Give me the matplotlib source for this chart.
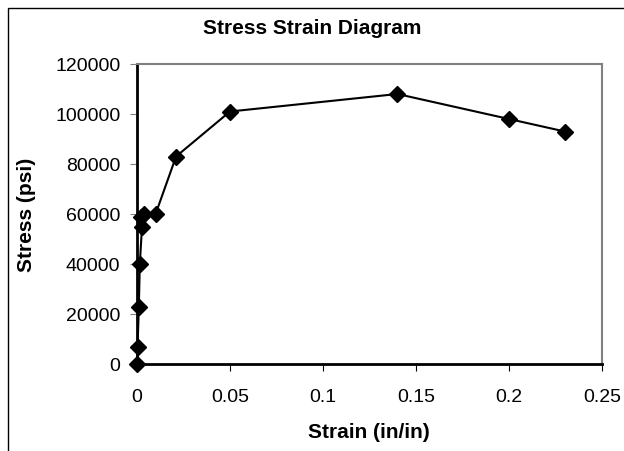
import matplotlib
matplotlib.use('Agg')
from matplotlib import pyplot as plt
from matplotlib.patches import Rectangle

strain = [0.0, 0.0003, 0.001, 0.0015, 0.0027, 0.002, 0.004, 0.01, 0.021, 0.05, 0.14, 0.2, 0.23]
stress = [0, 7000, 23000, 40000, 55000, 59000, 60000, 60000, 83000, 101000, 108000, 98000, 93000]

x_ticks = [0, 0.05, 0.1, 0.15, 0.2, 0.25]
x_tick_labels = ['0', '0.05', '0.1', '0.15', '0.2', '0.25']
y_ticks = [0, 20000, 40000, 60000, 80000, 100000, 120000]

plt.rcParams['font.family'] = ['Liberation Sans', 'DejaVu Sans']

fig = plt.figure(figsize=(6.24, 4.52), dpi=100)
# outer chart border (runs off the right and bottom of the picture)
fig.patches.append(Rectangle((8 / 624, -0.1), 1.2, 1 - 9 / 452 + 0.1,
                             transform=fig.transFigure, fill=False,
                             edgecolor='black', linewidth=1.0))

ax = fig.add_axes([137 / 624, 87 / 452, 465 / 624, 300 / 452])
ax.plot(strain, stress, color='black', linewidth=1.5, marker='D',
        markersize=8.5, markerfacecolor='black', markeredgecolor='black',
        clip_on=False, zorder=5)

ax.set_xlim(0, 0.25)
ax.set_ylim(0, 120000)
ax.set_xticks(x_ticks)
ax.set_xticklabels(x_tick_labels)
ax.set_yticks(y_ticks)
ax.tick_params(axis='both', direction='out', length=5, labelsize=14)
ax.tick_params(axis='y', color='#808080', pad=7)
ax.tick_params(axis='x', color='black', pad=12)

ax.spines['left'].set_color('black')
ax.spines['left'].set_linewidth(2)
ax.spines['bottom'].set_color('black')
ax.spines['bottom'].set_linewidth(2)
ax.spines['top'].set_color('#808080')
ax.spines['top'].set_linewidth(1.5)
ax.spines['right'].set_color('#808080')
ax.spines['right'].set_linewidth(1.5)

fig.text(312 / 624, 1 - 28 / 452, 'Stress Strain Diagram', ha='center', va='center',
         fontsize=15, fontweight='bold')
fig.text(26 / 624, 1 - 215 / 452, 'Stress (psi)', ha='center', va='center',
         rotation=90, fontsize=15, fontweight='bold')
fig.text(369 / 624, 1 - 433 / 452, 'Strain (in/in)', ha='center', va='center',
         fontsize=15, fontweight='bold')

fig.savefig('out.png', dpi=100)
